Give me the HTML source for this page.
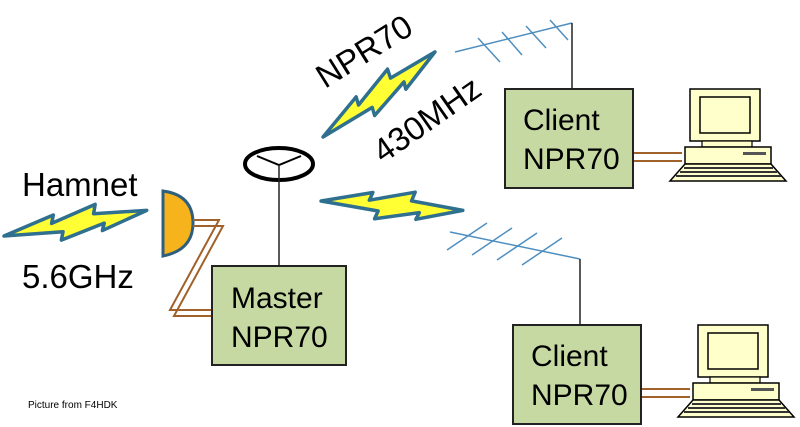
<!DOCTYPE html>
<html><head><meta charset="utf-8"><style>
html,body{margin:0;padding:0;background:#fff;width:800px;height:427px;overflow:hidden}
text{font-family:"Liberation Sans",sans-serif}
</style></head><body>
<svg width="800" height="427" viewBox="0 0 800 427" xmlns="http://www.w3.org/2000/svg">
<defs>
<g id="bolt"><polygon points="0,0 52,-13 49,-5 95,-17 92,-8 145,-3 98,10 101,3 56,13 59,5" fill="#ffff33" stroke="#2f6f8f" stroke-width="3.5" stroke-linejoin="round"/></g>
<g id="pc">
<rect x="20" y="0" width="70" height="52" fill="#ffffcc" stroke="#000" stroke-width="1.5"/>
<rect x="30" y="8" width="50" height="36" fill="#ffffcc" stroke="#000" stroke-width="1.5"/>
<rect x="32" y="52" width="50" height="6" fill="#ffffcc" stroke="#000" stroke-width="1.2"/>
<rect x="15" y="58" width="86" height="17" fill="#ffffcc" stroke="#000" stroke-width="1.5"/>
<rect x="73" y="63" width="23" height="3" fill="#555"/>
<polygon points="15,75 101,75 116,92 0,92" fill="#ffffcc" stroke="#000" stroke-width="1.5"/>
<line x1="14" y1="79" x2="103" y2="79" stroke="#333" stroke-width="2"/>
<line x1="10" y1="83" x2="107" y2="83" stroke="#333" stroke-width="2"/>
<line x1="6" y1="87" x2="111" y2="87" stroke="#333" stroke-width="2"/>
</g>
</defs>

<!-- bolts -->
<use href="#bolt" transform="translate(4,236) rotate(-9)"/>
<use href="#bolt" transform="translate(323,137) rotate(-36) scale(0.97,1)"/>
<use href="#bolt" transform="translate(321,201) rotate(5) scale(0.98,1)"/>

<!-- antenna -->
<ellipse cx="279" cy="164" rx="34" ry="16" fill="none" stroke="#000" stroke-width="4"/>
<polyline points="257,156 279,165 301,156" fill="none" stroke="#000" stroke-width="2"/>
<line x1="279" y1="165" x2="279" y2="266" stroke="#222" stroke-width="1.5"/>

<!-- dish -->
<path d="M163,191 Q193,195 193,223 Q193,250 163,256 Z" fill="#f6b31b" stroke="#2f5f7f" stroke-width="3"/>
<!-- cables -->
<g fill="none" stroke="#a0622a" stroke-width="2">
<polyline points="193,220 219,220 170,310 212,310"/>
<polyline points="193,226 223,226 174,316 212,316"/>
</g>
<g fill="none" stroke="#a0622a" stroke-width="2">
<line x1="633" y1="153" x2="682" y2="153"/><line x1="633" y1="161" x2="682" y2="161"/>
<line x1="641" y1="389" x2="690" y2="389"/><line x1="641" y1="397" x2="690" y2="397"/>
</g>

<!-- yagis -->
<g stroke="#4f8fc0" stroke-width="1.5">
<line x1="455" y1="52" x2="572" y2="23"/>
<line x1="478" y1="38" x2="500" y2="62"/>
<line x1="502" y1="32" x2="522" y2="55"/>
<line x1="526" y1="26" x2="546" y2="48"/>
<line x1="550" y1="20" x2="568" y2="40"/>
<line x1="450" y1="232" x2="580" y2="259"/>
<line x1="447" y1="250" x2="487" y2="223"/>
<line x1="472" y1="255" x2="512" y2="228"/>
<line x1="497" y1="260" x2="537" y2="233"/>
<line x1="522" y1="265" x2="562" y2="238"/>
</g>
<line x1="572" y1="23" x2="572" y2="89" stroke="#222" stroke-width="1.5"/>
<line x1="580" y1="259" x2="580" y2="325" stroke="#222" stroke-width="1.5"/>

<!-- boxes -->
<rect x="212" y="266" width="134" height="99" fill="#c6d9a2" stroke="#222" stroke-width="2"/>
<rect x="505" y="89" width="128" height="99" fill="#c6d9a2" stroke="#222" stroke-width="2"/>
<rect x="513" y="325" width="128" height="99" fill="#c6d9a2" stroke="#222" stroke-width="2"/>
<g font-size="30" fill="#000">
<text x="231" y="308">Master</text><text x="231" y="347">NPR70</text>
<text x="523" y="130">Client</text><text x="523" y="169">NPR70</text>
<text x="531" y="366">Client</text><text x="531" y="405">NPR70</text>
</g>

<use href="#pc" transform="translate(670,89)"/>
<use href="#pc" transform="translate(678,325)"/>

<g font-size="33" fill="#000">
<text x="22" y="196">Hamnet</text>
<text x="22" y="288">5.6GHz</text>
<text transform="translate(325,89) rotate(-32)">NPR70</text>
<text transform="translate(383,164) rotate(-35)">430MHz</text>
</g>
<text x="28" y="408" font-size="10" fill="#000">Picture from F4HDK</text>
</svg>
</body></html>
